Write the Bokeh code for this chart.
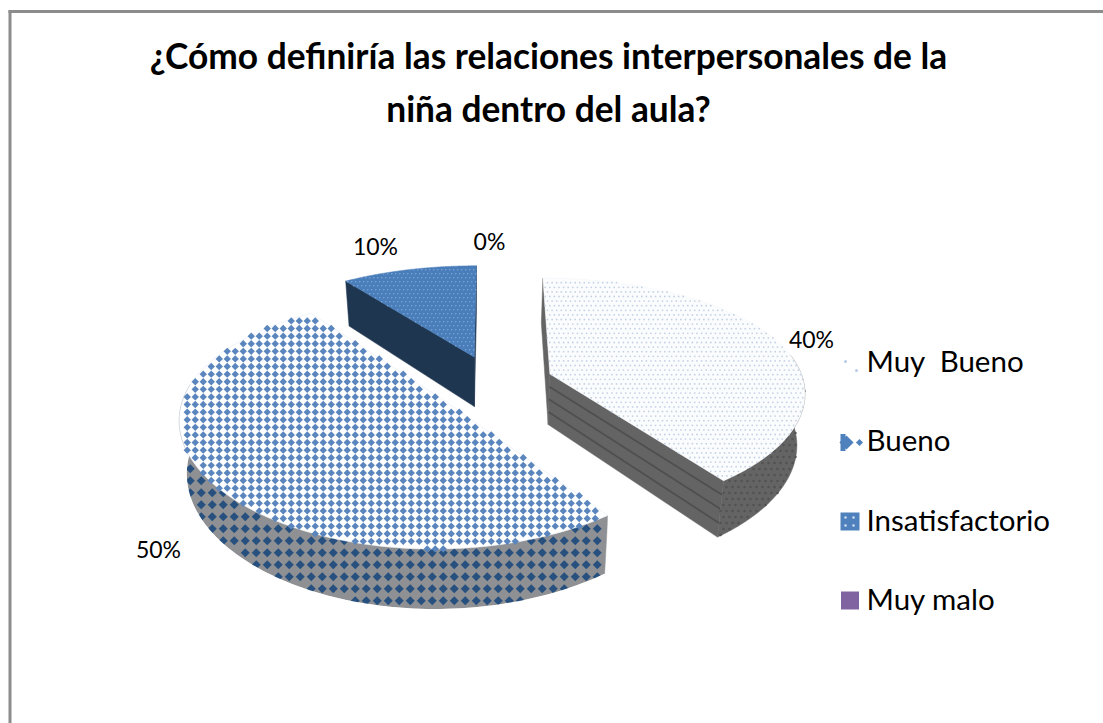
import numpy as np
from bokeh.plotting import figure
from bokeh.models import Range1d
from bokeh.core.properties import value
from bokeh.embed import file_html
from bokeh.resources import INLINE

title_lines = ["¿Cómo definiría las relaciones interpersonales de la", "niña dentro del aula?"]
categories = ["Muy\u00a0 Bueno", "Bueno", "Insatisfactorio", "Muy malo"]
shares = [40, 50, 10, 0]
labels = ["40%", "50%", "10%", "0%"]

FONT = value("Lato")
CX, CY = 492.0, 382.0
A, B, KX, K = 254.0, 116.0, 0.14, 0.18
EXPLODE = 0.24
DEPTH = 51.0

def proj(u, v):
    return CX + A * u / (1 + KX * v), CY - B * v / (1 + K * v)

def drop(x, y, v, f=1.0):
    w = 1 + 0.13 * v
    return 480 + (x - 480) * (1 - 0.025 * f), y + f * DEPTH / w

def inside(px, py, qx, qy):
    res = np.zeros(px.shape, bool)
    n = len(qx)
    for i in range(n):
        j = (i + 1) % n
        c = ((qy[i] > py) != (qy[j] > py))
        xi = qx[i] + (py - qy[i]) * (qx[j] - qx[i]) / (qy[j] - qy[i] + 1e-12)
        res ^= c & (px < xi)
    return res

def grid(qx, qy, dx, dy, stagger=False):
    xs = np.arange(min(qx) - dx, max(qx) + dx, dx)
    ys = np.arange(min(qy) - dy, max(qy) + dy, dy)
    gx, gy = np.meshgrid(xs, ys)
    if stagger:
        gx = gx + (np.arange(len(ys))[:, None] % 2) * dx / 2
    gx, gy = gx.ravel(), gy.ravel()
    m = inside(gx, gy, np.asarray(qx), np.asarray(qy))
    return gx[m], gy[m]

p = figure(width=1103, height=723, x_range=Range1d(0, 1103), y_range=Range1d(723, 0),
           toolbar_location=None, output_backend="svg", min_border=0,
           outline_line_color=None, background_fill_color="white", border_fill_color="white")
p.axis.visible = False
p.grid.visible = False

# frame: top and left rules only
p.line([8, 1103], [11, 11], line_color="#8c8c8c", line_width=3)
p.line([9.5, 9.5], [10, 723], line_color="#8c8c8c", line_width=3)

# slices
cum = np.cumsum([0] + shares)
angles = [(np.radians(3.6 * cum[i]), np.radians(3.6 * cum[i + 1])) for i in range(4)]

def offset(i):
    a0, a1 = angles[i]
    mid = (a0 + a1) / 2
    return EXPLODE * np.sin(mid), EXPLODE * np.cos(mid)

def slice_outline(i, n=120):
    a0, a1 = angles[i]
    ou, ov = offset(i)
    th = np.linspace(a0, a1, n)
    return np.r_[ou, ou + np.sin(th)], np.r_[ov, ov + np.cos(th)]

def outer_wall(i, t0, t1, n=100):
    ou, ov = offset(i)
    th = np.radians(np.linspace(t0, t1, n))
    u, v = ou + np.sin(th), ov + np.cos(th)
    x, y = proj(u, v)
    xb, yb = drop(x, y, v)
    return np.r_[x, xb[::-1]], np.r_[y, yb[::-1]], xb, yb

def cut_wall(i, ang, f0=0.0, f1=1.0):
    ou, ov = offset(i)
    th = np.radians(ang)
    u = np.array([ou, ou + np.sin(th)])
    v = np.array([ov, ov + np.cos(th)])
    x, y = proj(u, v)
    xa, ya = drop(x, y, v, f0)
    xb, yb = drop(x, y, v, f1)
    return np.r_[xa, xb[::-1]], np.r_[ya, yb[::-1]]

GREY1, GREY2, NAVY = "#646464", "#8f9093", "#1f3650"

# Insatisfactorio
wx, wy = cut_wall(2, 324)
p.patch(wx, wy, fill_color=NAVY, line_color=NAVY, line_width=0.5)
wx, wy = cut_wall(2, 360)
p.patch(wx, wy, fill_color=NAVY, line_color=NAVY, line_width=0.5)
u, v = slice_outline(2)
x, y = proj(u, v)
p.patch(x, y, fill_color="#4a7ebb", line_color="#4a7ebb", line_width=0.5)
gx, gy = grid(x, y, 4.0, 4.0, True)
p.scatter(gx, gy, size=1.6, marker="circle", fill_color="#7ea6d6", line_color=None)

# Bueno
wx, wy, bx, by = outer_wall(1, 144, 277)
p.patch(wx, wy, fill_color=GREY2, line_color=GREY2, line_width=0.5)
gx, gy = grid(wx, wy, 11.0, 12.0, False)
p.scatter(gx, gy, size=6.4, marker="square", angle=np.pi / 4, fill_color="#27507f", line_color=None)
# white band that trims the wall's diamonds to its lower edge and its end
ox, oy = CX + (bx - CX) * 1.035, by + 9
p.patch(np.r_[bx, ox[::-1]], np.r_[by, oy[::-1]], fill_color="#ffffff", line_color=None)
ex, ey = np.array([wx[0], wx[0] + 9, wx[0] + 9, wx[0]]), np.array([wy[0] - 6, wy[0] - 6, by[0] + 6, by[0] + 6])
p.patch(ex, ey, fill_color="#ffffff", line_color=None)
u, v = slice_outline(1)
x, y = proj(u, v)
p.patch(x, y, fill_color="#ffffff", line_color="#dfe8f2", line_width=0.5)
gx, gy = grid(x, y, 8.0, 7.6, False)
p.scatter(gx, gy, size=5.2, marker="square", angle=np.pi / 4, fill_color="#5a86bd", line_color=None)

# Muy Bueno
wx, wy = cut_wall(0, 0)
p.patch(wx, wy, fill_color=GREY1, line_color=GREY1, line_width=0.5)
wx, wy = cut_wall(0, 144)
p.patch(wx, wy, fill_color=GREY1, line_color=GREY1, line_width=0.5)
for f in (0.25, 0.5, 0.75):
    lx, ly = cut_wall(0, 144, f, f)
    p.line(lx[:2], ly[:2], line_color="#4f4f4f", line_width=1.8)
wx, wy, _, _ = outer_wall(0, 80, 144)
p.patch(wx, wy, fill_color=GREY1, line_color=GREY1, line_width=0.5)
gx, gy = grid(wx, wy, 6.0, 6.0, True)
p.scatter(gx, gy, size=2.4, marker="circle", fill_color="#525252", line_color=None)
u, v = slice_outline(0)
x, y = proj(u, v)
p.patch(x, y, fill_color="#fbfcfd", line_color="#f2f5f9", line_width=0.5)
gx, gy = grid(x, y, 4.6, 4.6, True)
p.scatter(gx, gy, size=1.8, marker="circle", fill_color="#c4d2e4", line_color=None)

# title
p.text([548, 548], [55, 108], text=title_lines, text_font=FONT, text_font_style="bold",
       text_font_size="35.3px", text_color="#000000", text_align="center", text_baseline="middle")

# data labels
p.text([811, 158, 375, 489], [338, 548, 245, 240], text=labels, text_font=FONT, text_font_size="23px",
       text_color="#000000", text_align="center", text_baseline="middle")

# legend
ly = np.array([360, 439, 519, 598], float)
p.text([866] * 4, ly, text=categories, text_font=FONT, text_font_size="29.5px",
       text_color="#000000", text_align="left", text_baseline="middle")
p.rect([849.5], [521], width=19, height=18, fill_color="#4f81bd", line_color=None)
p.rect([849.5], [600], width=18, height=18, fill_color="#8064a2", line_color=None)
p.scatter([845, 856], [361, 370], size=3, marker="circle", fill_color="#b6cbe4", line_color=None)
p.rect([842.5], [442], width=5, height=17, fill_color="#4f81bd", line_color=None)
p.scatter([846, 859], [442, 442], size=[10, 5], marker="square", angle=np.pi / 4, fill_color="#4f81bd", line_color=None)
p.scatter([845, 853, 845, 853], [517, 517, 525, 525], size=2.5, marker="circle", fill_color="#cfe0f2", line_color=None)

open("out.html", "w").write(file_html(p, INLINE))
